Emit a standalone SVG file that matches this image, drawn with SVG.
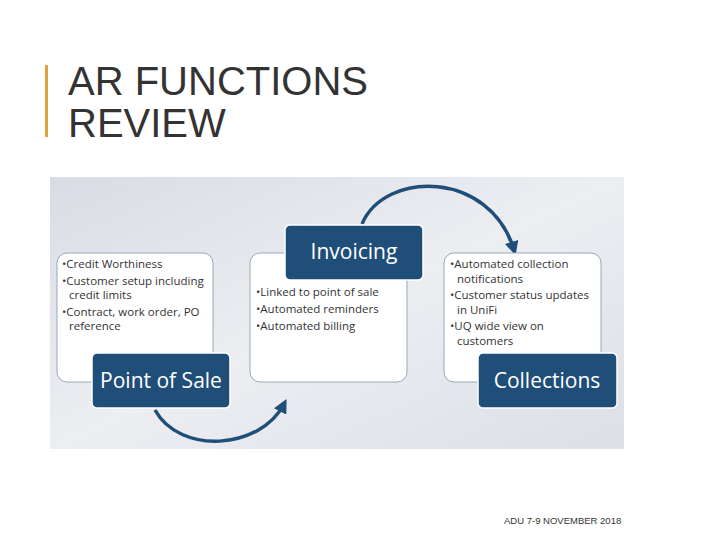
<svg xmlns="http://www.w3.org/2000/svg" width="720" height="540" viewBox="0 0 720 540">
<defs>
<linearGradient id="bg" x1="0" y1="0" x2="1" y2="1"><stop offset="0" stop-color="#d9dce4"/><stop offset="0.5" stop-color="#eceef2"/><stop offset="1" stop-color="#dcdfe6"/></linearGradient>
<marker id="ah" viewBox="0 0 10 10" refX="6" refY="5" markerWidth="4" markerHeight="4" orient="auto"><path d="M0,0 L10,5 L0,10 z" fill="#1f4e79"/></marker>
<style>
.wb{fill:#fff;stroke:#9aa8b8;stroke-width:1}
.db{fill:#1f4e79;stroke:#fff;stroke-width:1.5}
.t{font-family:"Open Sans","Liberation Sans",sans-serif;font-size:11.5px;fill:#333}
.h{font-family:"Open Sans","Liberation Sans",sans-serif;font-size:21px;fill:#fff;text-anchor:middle}
.c{fill:none;stroke:#1f4e79;stroke-width:3.5}
</style>
</defs>
<rect width="720" height="540" fill="#fff"/>
<rect x="45" y="65" width="3" height="72" fill="#e0a040"/>
<text x="68" y="95" font-family="Liberation Sans,sans-serif" font-size="40" fill="#333">AR FUNCTIONS</text>
<text x="68" y="137" font-family="Liberation Sans,sans-serif" font-size="40" fill="#333">REVIEW</text>
<rect x="50" y="177" width="574" height="272" fill="url(#bg)"/>
<g id="connectors">
<path class="c" d="M155,410 C180,455 260,450 284,404" marker-end="url(#ah)"/>
<path class="c" d="M362,224 C385,170 490,170 514,250" marker-end="url(#ah)"/>
</g>
<g id="pos">
<rect class="wb" x="57" y="253" width="156" height="129" rx="10"/>
<text class="t" x="62" y="268">•Credit Worthiness</text>
<text class="t" x="62" y="285">•Customer setup including</text>
<text class="t" x="69" y="299">credit limits</text>
<text class="t" x="62" y="316">•Contract, work order, PO</text>
<text class="t" x="69" y="330">reference</text>
<rect class="db" x="92" y="353" width="138" height="55" rx="5"/>
<text class="h" x="161" y="388">Point of Sale</text>
</g>
<g id="invoicing">
<rect class="wb" x="250" y="253" width="157" height="129" rx="10"/>
<text class="t" x="256" y="296">•Linked to point of sale</text>
<text class="t" x="256" y="313">•Automated reminders</text>
<text class="t" x="256" y="330">•Automated billing</text>
<rect class="db" x="285" y="225" width="138" height="55" rx="5"/>
<text class="h" x="354" y="259">Invoicing</text>
</g>
<g id="collections">
<rect class="wb" x="444" y="253" width="157" height="129" rx="10"/>
<text class="t" x="450" y="268">•Automated collection</text>
<text class="t" x="457" y="283">notifications</text>
<text class="t" x="450" y="299">•Customer status updates</text>
<text class="t" x="457" y="314">in UniFi</text>
<text class="t" x="450" y="330">•UQ wide view on</text>
<text class="t" x="457" y="345">customers</text>
<rect class="db" x="478" y="353" width="139" height="55" rx="5"/>
<text class="h" x="547" y="388">Collections</text>
</g>
<text x="504" y="524" font-family="Liberation Sans,sans-serif" font-size="9.5" fill="#333">ADU 7-9 NOVEMBER 2018</text>
</svg>
